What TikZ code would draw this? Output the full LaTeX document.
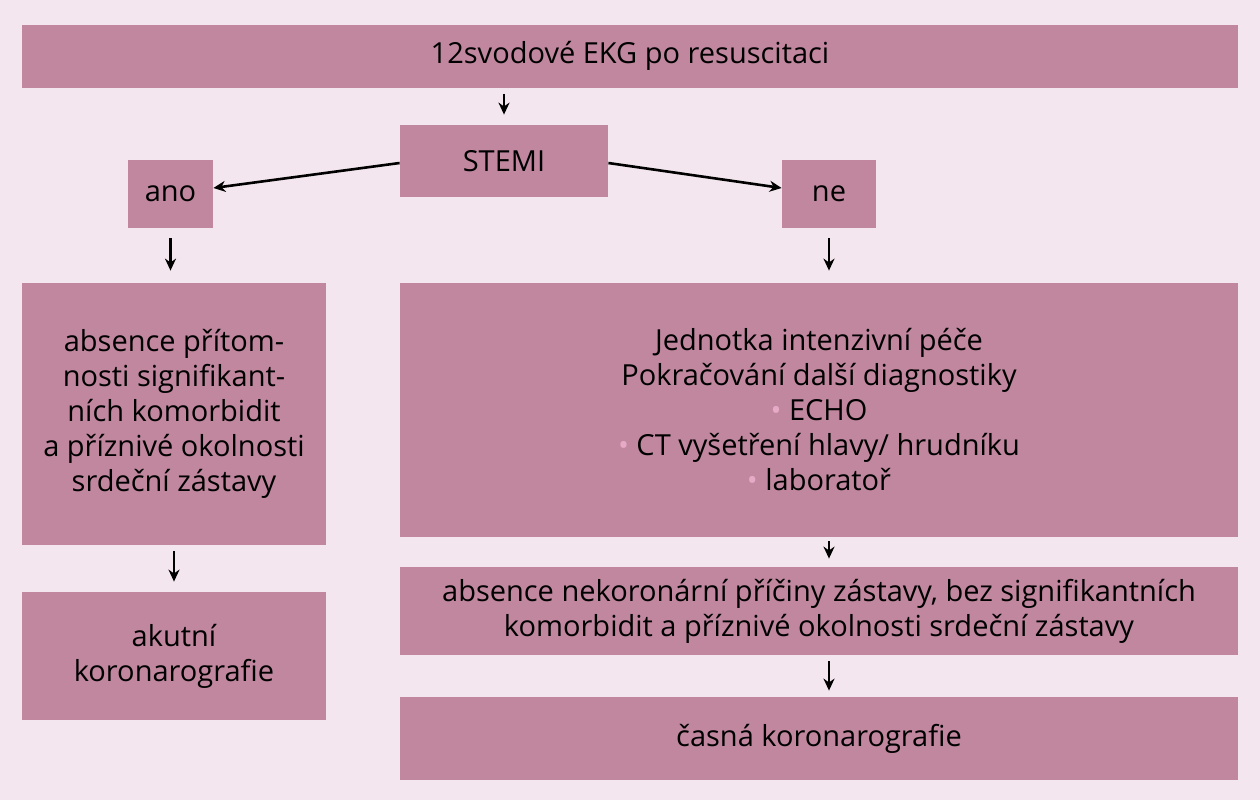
\documentclass[tikz,border=0pt]{standalone}
\usepackage{fontspec}
\setmainfont{Open Sans}
\usetikzlibrary{arrows.meta}
\definecolor{bgpink}{HTML}{F4E6EE}
\definecolor{boxpink}{HTML}{C0879F}
\definecolor{dotpink}{HTML}{E6A9C6}
\newcommand{\bul}{{\color{dotpink}\textbullet}\ }
\tikzset{
  box/.style={fill=boxpink, inner sep=0pt, align=center, font=\fontsize{14.5}{17.5}\selectfont},
  arr/.style={-{Stealth[length=6pt, width=5.5pt]}, line width=1.3pt, black}
}
\begin{document}
\begin{tikzpicture}[x=0.5pt, y=-0.5pt]
    % background
    \fill[bgpink] (0,0) rectangle (1260,800);

    % boxes, placed by their centres
    \node[box, minimum width=608pt, minimum height=31.5pt] (ekg) at (630,56) {12svodové EKG po resuscitaci};
    \node[box, minimum width=104pt, minimum height=36pt] (stemi) at (504,161) {STEMI};
    \node[box, minimum width=42.5pt, minimum height=34pt] (ano) at (170.5,194) {ano};
    \node[box, minimum width=47pt, minimum height=34pt] (ne) at (829,194) {ne};
    \node[box, minimum width=152pt, minimum height=131pt] (left) at (174,414)
        {absence přítom-\\nosti signifikant-\\ních komorbidit\\a příznivé okolnosti\\srdeční zástavy};
    \node[box, minimum width=152pt, minimum height=64pt] (akut) at (174,656) {akutní\\koronarografie};
    \node[box, minimum width=419pt, minimum height=127pt] (jip) at (819,410)
        {Jednotka intenzivní péče\\Pokračování další diagnostiky\\\bul ECHO\\\bul CT vyšetření hlavy/ hrudníku\\\bul laboratoř};
    \node[box, minimum width=419pt, minimum height=44pt] (absn) at (819,611)
        {absence nekoronární příčiny zástavy, bez signifikantních\\komorbidit a příznivé okolnosti srdeční zástavy};
    \node[box, minimum width=419pt, minimum height=41.5pt] (casna) at (819,738.5) {časná koronarografie};

    % connectors
    \draw[arr] ([yshift=-3pt]ekg.south -| stemi) -- ([yshift=5pt]stemi.north);
    \draw[arr] ([yshift=-1pt]stemi.west) -- ([yshift=3pt]ano.east);
    \draw[arr] ([yshift=-1pt]stemi.east) -- ([yshift=3pt]ne.west);
    \draw[arr] ([yshift=-5pt]ano.south) -- ([yshift=6pt]ano.south |- left.north);
    \draw[arr] ([yshift=-3pt]left.south) -- ([yshift=5pt]akut.north);
    \draw[arr] ([yshift=-5pt]ne.south) -- ([yshift=6pt]ne.south |- jip.north);
    \draw[arr] ([yshift=-2pt]ne.south |- jip.south) -- ([yshift=4pt]ne.south |- absn.north);
    \draw[arr] ([yshift=-3pt]ne.south |- absn.south) -- ([yshift=3pt]ne.south |- casna.north);
\end{tikzpicture}
\end{document}
